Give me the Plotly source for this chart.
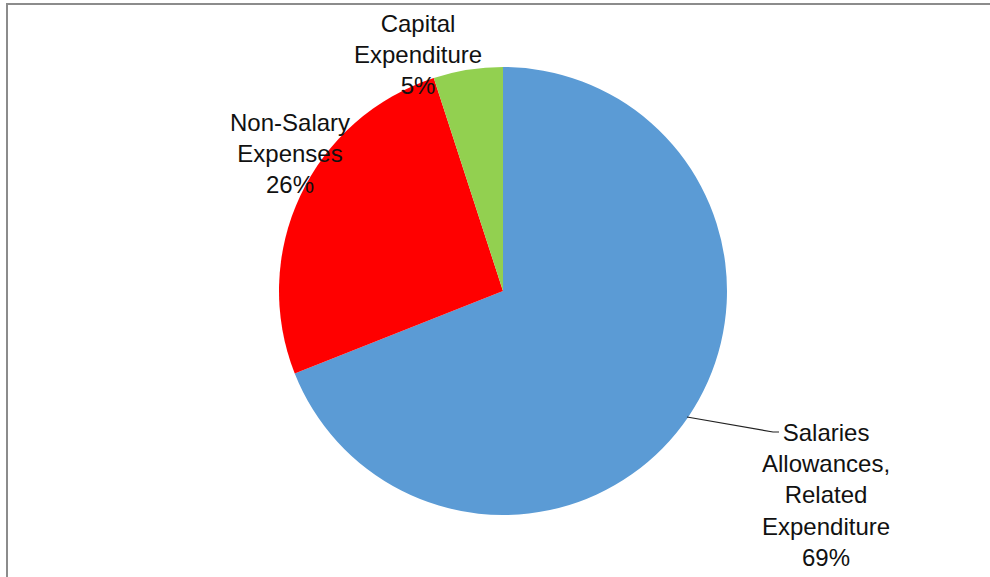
import plotly.graph_objects as go

labels = ["Salaries Allowances, Related Expenditure", "Non-Salary Expenses", "Capital Expenditure"]
label_lines = ["Salaries<br>Allowances,<br>Related<br>Expenditure", "Non-Salary<br>Expenses", "Capital<br>Expenditure"]
values = [69, 26, 5]
colors = ["#5B9BD5", "#FF0000", "#92D050"]

W, H = 990, 577
cx, cy, r = 503, 291, 224

def px(x):
    return x / W

def py(y):
    return 1 - y / H

fig = go.Figure(go.Pie(
    labels=labels,
    values=values,
    sort=False,
    direction="clockwise",
    rotation=0,
    textinfo="none",
    hoverinfo="label+percent",
    marker=dict(colors=colors, line=dict(width=0)),
    domain=dict(x=[px(cx - r), px(cx + r)], y=[py(cy + r), py(cy - r)]),
    showlegend=False,
))

label_pos = [(826, 495), (290, 154), (418, 55)]
anns = []
for txt, v, (lx, ly) in zip(label_lines, values, label_pos):
    anns.append(dict(
        x=px(lx), y=py(ly), xref="paper", yref="paper",
        text=f"{txt}<br>{v}%", showarrow=False,
        xanchor="center", yanchor="middle", align="center",
        font=dict(family="Liberation Sans, Arial, sans-serif", size=24, color="#111111"),
    ))

shapes = [
    # leader line for Salaries label
    dict(type="path", xref="paper", yref="paper",
         path=f"M {px(687)} {py(417)} L {px(773)} {py(432)} L {px(779)} {py(432)}",
         line=dict(color="#222222", width=1.2)),
    # chart frame (top and left edges)
    dict(type="line", xref="paper", yref="paper",
         x0=px(6.5), y0=py(4), x1=1, y1=py(4),
         line=dict(color="#8c8c8c", width=2)),
    dict(type="line", xref="paper", yref="paper",
         x0=px(7), y0=py(3), x1=px(7), y1=0,
         line=dict(color="#8c8c8c", width=2)),
]

fig.update_layout(
    width=W, height=H,
    margin=dict(l=0, r=0, t=0, b=0),
    paper_bgcolor="white",
    plot_bgcolor="white",
    annotations=anns,
    shapes=shapes,
)

fig.write_html("out.html", config={"displayModeBar": False},
               post_script="document.body.style.margin='0';document.body.style.overflow='hidden';")
